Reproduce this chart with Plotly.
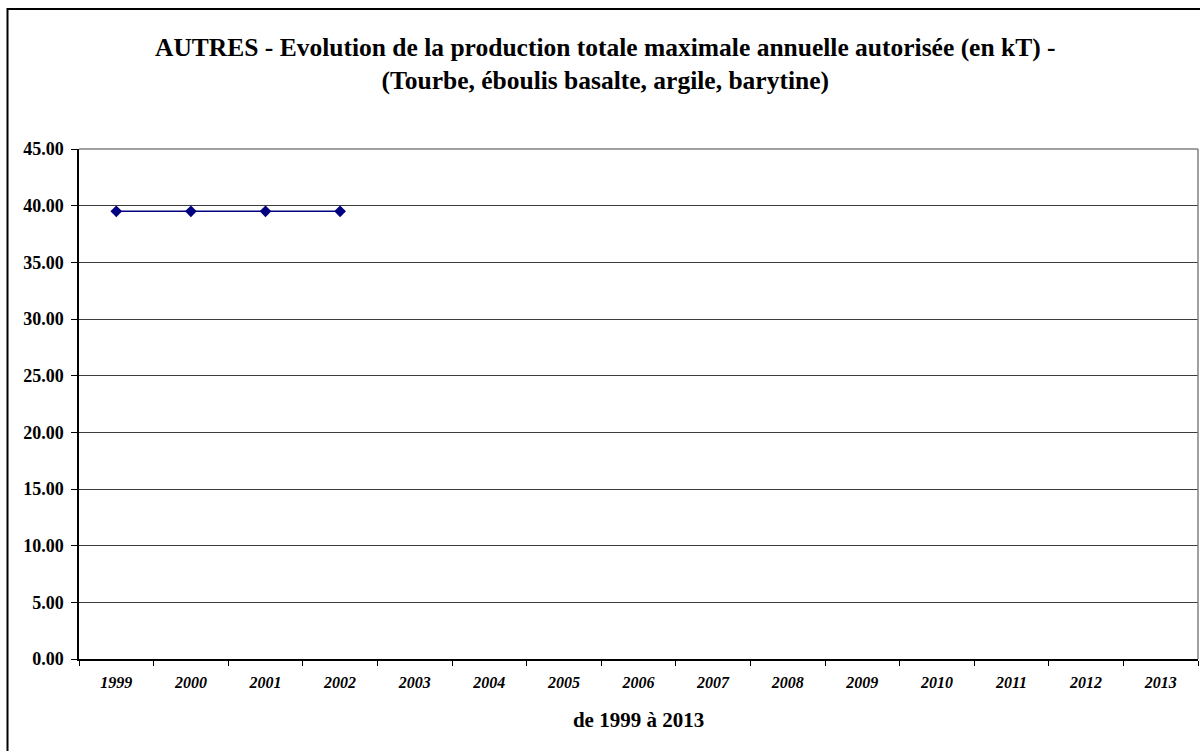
import plotly.graph_objects as go

years = [str(y) for y in range(1999, 2014)]
series_years = ["1999", "2000", "2001", "2002"]
series_values = [39.5, 39.5, 39.5, 39.5]
y_ticks = [0, 5, 10, 15, 20, 25, 30, 35, 40, 45]
y_tick_labels = [f"{v:.2f}" for v in y_ticks]

title_line1 = "AUTRES - Evolution de la production totale maximale annuelle autorisée (en kT) -"
title_line2 = "(Tourbe, éboulis basalte, argile, barytine)"
x_title = "de 1999 à 2013"

FONT = "Liberation Serif"
L, R, T, B = 79, 2, 149, 92
W, H = 1200, 751
pw = W - L - R
ph = H - T - B

fig = go.Figure()
fig.add_trace(go.Scatter(
    x=series_years, y=series_values, mode="lines+markers",
    line=dict(color="#000080", width=1.5),
    marker=dict(symbol="diamond", size=9, color="#000080"),
    showlegend=False, cliponaxis=False,
))

def px_x(p):
    return (p - L) / pw

def px_y(p):
    return (H - B - p) / ph

fig.update_layout(
    width=W, height=H,
    margin=dict(l=L, r=R, t=T, b=B),
    paper_bgcolor="white", plot_bgcolor="white",
    font=dict(family=FONT, color="black"),
    xaxis=dict(
        type="category", categoryorder="array", categoryarray=years,
        tickmode="array", tickvals=years, ticktext=years,
        range=[-0.5, len(years) - 0.5],
        tickson="boundaries", ticks="outside", ticklen=5, tickcolor="black",
        showline=True, linecolor="black", linewidth=1.5,
        showgrid=False, zeroline=False,
        tickfont=dict(family=FONT, size=16, color="black", style="italic", weight="bold"),
        ticklabelstandoff=8,
        title=dict(text=f"<b>{x_title}</b>", font=dict(family=FONT, size=21, color="black"), standoff=22),
    ),
    yaxis=dict(
        range=[0, 45], tickmode="array", tickvals=y_ticks, ticktext=y_tick_labels,
        ticks="outside", ticklen=6, tickcolor="black",
        showline=True, linecolor="black", linewidth=1.5,
        showgrid=True, gridcolor="#3c3c3c", gridwidth=1, zeroline=False,
        tickfont=dict(family=FONT, size=18, color="black", weight="bold"),
        ticklabelstandoff=4,
    ),
    annotations=[
        dict(text=f"<b>{title_line1}</b><br><b>{title_line2}</b>",
             xref="paper", yref="paper", x=px_x(605), y=px_y(31),
             xanchor="center", yanchor="top", showarrow=False,
             font=dict(family=FONT, size=25.5, color="black")),
    ],
    shapes=[
        # outer chart border (right/bottom edges outside the view)
        dict(type="rect", xref="paper", yref="paper", layer="above",
             x0=px_x(7.5), x1=px_x(1215), y0=px_y(770), y1=px_y(9),
             line=dict(color="black", width=2), fillcolor="rgba(0,0,0,0)"),
        # plot area top and right border
        dict(type="line", xref="paper", yref="paper", x0=0, x1=1, y0=1, y1=1,
             line=dict(color="#808080", width=1.5)),
        dict(type="line", xref="paper", yref="paper", x0=1, x1=1, y0=0, y1=1,
             line=dict(color="#808080", width=1.5)),
    ],
)

fig.write_html("out.html", config={"displayModeBar": False},
               post_script="document.body.style.margin='0px';")
